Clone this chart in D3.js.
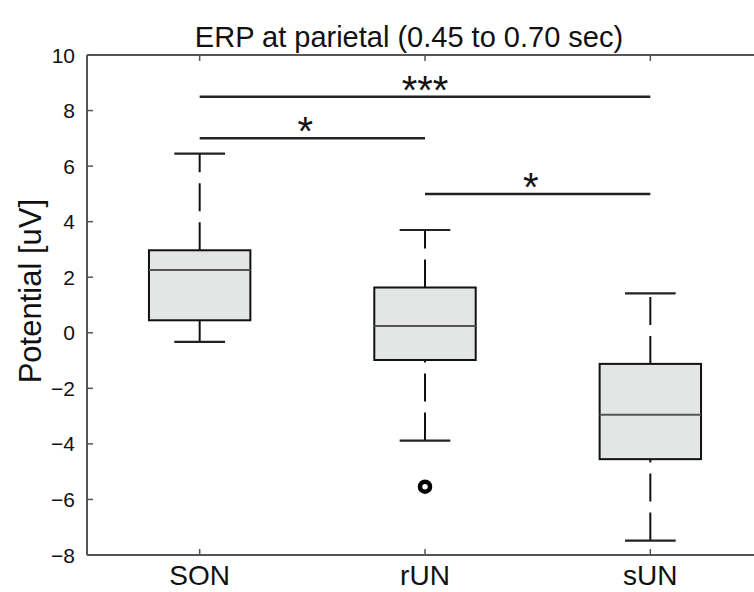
<!DOCTYPE html>
<html>
<head>
<meta charset="utf-8">
<script src="https://cdn.jsdelivr.net/npm/d3@7"></script>
<style>
  body { margin: 0; background: #fff; }
  svg { display: block; font-family: "Liberation Sans", Arial, sans-serif; }
</style>
</head>
<body>
<div id="chart"></div>
<script>
// boxplot stats
var groups = ["SON", "rUN", "sUN"];
var whiskLo = [-0.33, -3.88, -7.48];
var q1 = [0.45, -0.98, -4.55];
var median = [2.26, 0.24, -2.95];
var q3 = [2.97, 1.63, -1.12];
var whiskHi = [6.45, 3.7, 1.42];
var outliers = [[], [-5.54], []];

// significance bars: from group, to group, height, label
var sigFrom = [0, 0, 1];
var sigTo = [2, 1, 2];
var sigY = [8.5, 7, 5];
var sigLabel = ["***", "*", "*"];

var yTicks = [-8, -6, -4, -2, 0, 2, 4, 6, 8, 10];

var W = 754, H = 592;
var svg = d3.select("#chart").append("svg").attr("width", W).attr("height", H);

var x = d3.scaleLinear().domain([0.5, 3.5]).range([87, 763]);
var y = d3.scaleLinear().domain([-8, 10]).range([555, 55]);
var boxW = 0.45;

var axisCol = "#555";

// title
svg.append("text")
  .attr("x", 409).attr("y", 47)
  .attr("text-anchor", "middle")
  .style("font-size", "29px")
  .attr("fill", "#111")
  .text("ERP at parietal (0.45 to 0.70 sec)");

// y label
svg.append("text")
  .attr("transform", "translate(41," + y(1.5) + ") rotate(-90)")
  .attr("text-anchor", "middle")
  .style("font-size", "31px")
  .attr("fill", "#111")
  .text("Potential [uV]");

// boxes
var g = svg.append("g");
groups.forEach(function(name, i) {
  var cx = x(i + 1);
  var half = (x(boxW) - x(0)) / 2;
  var cap = half / 2;

  // whiskers, drawn bottom to top so dashes line up like the original
  g.append("line")
    .attr("x1", cx).attr("x2", cx)
    .attr("y1", y(whiskLo[i])).attr("y2", y(q1[i]))
    .attr("stroke", "#111").attr("stroke-width", 2)
    .attr("stroke-dasharray", "28,11");
  g.append("line")
    .attr("x1", cx).attr("x2", cx)
    .attr("y1", y(q3[i])).attr("y2", y(whiskHi[i]))
    .attr("stroke", "#111").attr("stroke-width", 2)
    .attr("stroke-dasharray", "28,11");

  [whiskLo[i], whiskHi[i]].forEach(function(v) {
    g.append("line")
      .attr("x1", cx - cap).attr("x2", cx + cap)
      .attr("y1", y(v)).attr("y2", y(v))
      .attr("stroke", "#222").attr("stroke-width", 2.2);
  });

  g.append("rect")
    .attr("x", cx - half).attr("width", half * 2)
    .attr("y", y(q3[i])).attr("height", y(q1[i]) - y(q3[i]))
    .attr("fill", "#e4e6e6")
    .attr("stroke", "#111").attr("stroke-width", 2);

  g.append("line")
    .attr("x1", cx - half).attr("x2", cx + half)
    .attr("y1", y(median[i])).attr("y2", y(median[i]))
    .attr("stroke", "#555").attr("stroke-width", 2);

  outliers[i].forEach(function(v) {
    g.append("circle")
      .attr("cx", cx).attr("cy", y(v)).attr("r", 5)
      .attr("fill", "none").attr("stroke", "#000").attr("stroke-width", 4.5);
  });
});

// significance bars
sigY.forEach(function(v, k) {
  var xa = x(sigFrom[k] + 1), xb = x(sigTo[k] + 1);
  svg.append("line")
    .attr("x1", xa).attr("x2", xb)
    .attr("y1", y(v)).attr("y2", y(v))
    .attr("stroke", "#222").attr("stroke-width", 2.5);
  svg.append("text")
    .attr("x", (xa + xb) / 2 + (sigLabel[k].length == 1 ? -7 : 0))
    .attr("y", y(v) + 7)
    .attr("text-anchor", "middle")
    .style("font-size", "40px")
    .attr("fill", "#111")
    .text(sigLabel[k]);
});

// axes frame
var frame = svg.append("g").attr("stroke", axisCol).attr("stroke-width", 2).attr("fill", "none");
frame.append("line").attr("x1", x(0.5)).attr("x2", x(0.5)).attr("y1", y(10)).attr("y2", y(-8));
frame.append("line").attr("x1", x(0.5)).attr("x2", W).attr("y1", y(-8)).attr("y2", y(-8));
frame.append("line").attr("x1", x(0.5)).attr("x2", W).attr("y1", y(10)).attr("y2", y(10));

// y ticks
yTicks.forEach(function(t) {
  svg.append("line")
    .attr("x1", x(0.5)).attr("x2", x(0.5) + 6)
    .attr("y1", y(t)).attr("y2", y(t))
    .attr("stroke", axisCol).attr("stroke-width", 1.5);
  svg.append("text")
    .attr("x", 75).attr("y", y(t))
    .attr("dy", "0.36em")
    .attr("text-anchor", "end")
    .style("font-size", "21px")
    .attr("fill", "#111")
    .text(t < 0 ? "\u2212" + Math.abs(t) : t);
});

// x ticks, bottom and top
groups.forEach(function(name, i) {
  var cx = x(i + 1);
  svg.append("line").attr("x1", cx).attr("x2", cx)
    .attr("y1", y(-8)).attr("y2", y(-8) - 6)
    .attr("stroke", axisCol).attr("stroke-width", 1.5);
  svg.append("line").attr("x1", cx).attr("x2", cx)
    .attr("y1", y(10)).attr("y2", y(10) + 6)
    .attr("stroke", axisCol).attr("stroke-width", 1.5);
  svg.append("text")
    .attr("x", cx).attr("y", 585)
    .attr("text-anchor", "middle")
    .style("font-size", "28px")
    .attr("fill", "#111")
    .text(name);
});
</script>
</body>
</html>
